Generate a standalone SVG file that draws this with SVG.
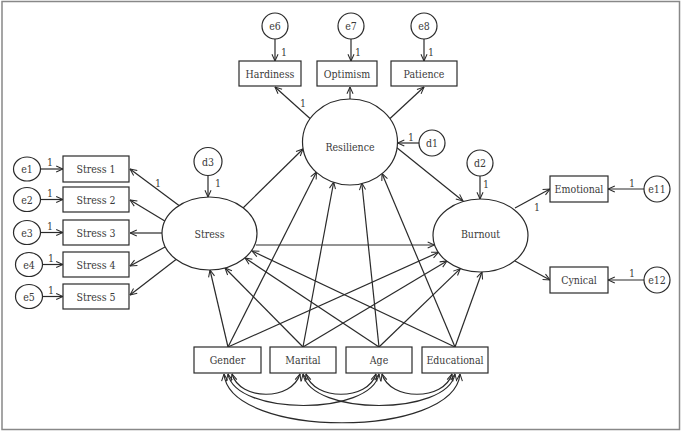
<svg xmlns="http://www.w3.org/2000/svg" width="682" height="432" viewBox="0 0 682 432">
<style>
.n{fill:#fff;stroke:#2a2a2a;stroke-width:1.2}
text{font-family:"DejaVu Serif Condensed","DejaVu Serif",serif;font-stretch:condensed;font-size:10.5px;fill:#3a3a3a;text-anchor:middle}
.c line,.c path{fill:none;stroke:#2a2a2a;stroke-width:1.2;marker-end:url(#a)}
.c .d{marker-start:url(#a)}
</style>
<defs>
<marker id="a" viewBox="0 0 10 10" refX="9.5" refY="5" markerWidth="8" markerHeight="8" markerUnits="userSpaceOnUse" orient="auto-start-reverse">
<path d="M1,1.2 L9.5,5 L1,8.8" fill="none" stroke="#2a2a2a" stroke-width="1.3"/>
</marker>
</defs>
<rect x="2" y="1.5" width="677.5" height="428" fill="#fff" stroke="#888" stroke-width="1.5"/>

<g class="c" id="connectors">
<line x1="40" y1="169" x2="63" y2="169"/>
<line x1="40" y1="199.5" x2="63" y2="199.5"/>
<line x1="40" y1="232.5" x2="63" y2="232.5"/>
<line x1="42" y1="264.5" x2="63" y2="264.5"/>
<line x1="42" y1="296.5" x2="63" y2="296.5"/>
<line x1="275" y1="39" x2="275" y2="61"/>
<line x1="351" y1="39" x2="351" y2="61"/>
<line x1="424" y1="39" x2="424" y2="61"/>
<line x1="644" y1="189" x2="608" y2="189"/>
<line x1="644" y1="280" x2="608" y2="280"/>
<line x1="208" y1="175.5" x2="208" y2="197"/>
<line x1="419" y1="143" x2="397.5" y2="143"/>
<line x1="480" y1="176" x2="480" y2="199"/>
<line x1="179" y1="205.4" x2="130" y2="169"/>
<line x1="164.8" y1="221.1" x2="130" y2="200"/>
<line x1="162" y1="233" x2="130" y2="233"/>
<line x1="165" y1="247" x2="130" y2="266"/>
<line x1="176" y1="259.5" x2="130" y2="295"/>
<line x1="310" y1="118.5" x2="275" y2="87"/>
<line x1="350" y1="99" x2="350" y2="87"/>
<line x1="390" y1="118.5" x2="424" y2="87"/>
<line x1="515" y1="208" x2="550" y2="189"/>
<line x1="515" y1="261" x2="550" y2="280"/>
<line x1="243" y1="208" x2="303" y2="149"/>
<line x1="256" y1="245" x2="434.5" y2="245"/>
<line x1="396" y1="147" x2="463" y2="201"/>
<line x1="228" y1="347" x2="210" y2="270"/>
<line x1="228" y1="347" x2="316.5" y2="172"/>
<line x1="228" y1="347" x2="438.5" y2="252.3"/>
<line x1="303" y1="347" x2="225" y2="268"/>
<line x1="303" y1="347" x2="333.7" y2="182"/>
<line x1="303" y1="347" x2="447" y2="261"/>
<line x1="379" y1="347" x2="245" y2="258"/>
<line x1="379" y1="347" x2="361.8" y2="183"/>
<line x1="379" y1="347" x2="460.3" y2="268.6"/>
<line x1="455" y1="347" x2="252" y2="251"/>
<line x1="455" y1="347" x2="382" y2="173.5"/>
<line x1="455" y1="347" x2="482" y2="272"/>
<path class="d" d="M232,374 C240,401 292,401 300,374"/>
<path class="d" d="M306,374 C314,401 368,401 376,374"/>
<path class="d" d="M382,374 C390,401 444,401 452,374"/>
<path class="d" d="M228,374 C236,416 371,416 379,374"/>
<path class="d" d="M303,374 C311,416 447,416 455,374"/>
<path class="d" d="M224,374 C230,439 454,439 460,374"/>
</g>

<g id="labels">
<text x="50" y="166">1</text>
<text x="50" y="196.5">1</text>
<text x="50" y="229.5">1</text>
<text x="51" y="261.5">1</text>
<text x="51" y="293.5">1</text>
<text x="158" y="187">1</text>
<text x="218" y="187">1</text>
<text x="284" y="56">1</text>
<text x="358" y="56">1</text>
<text x="431" y="56">1</text>
<text x="303" y="107">1</text>
<text x="411" y="141">1</text>
<text x="486" y="188">1</text>
<text x="537" y="211">1</text>
<text x="632" y="187">1</text>
<text x="632" y="277">1</text>
</g>

<g id="e1"><ellipse class="n" cx="27" cy="169" rx="13.5" ry="12"/><text x="27" y="173">e1</text></g>
<g id="e2"><ellipse class="n" cx="27" cy="199.5" rx="13.5" ry="12"/><text x="27" y="203.5">e2</text></g>
<g id="e3"><ellipse class="n" cx="27" cy="232.5" rx="13.5" ry="12"/><text x="27" y="236.5">e3</text></g>
<g id="e4"><ellipse class="n" cx="29" cy="264.5" rx="13.5" ry="12"/><text x="29" y="268.5">e4</text></g>
<g id="e5"><ellipse class="n" cx="29" cy="296.5" rx="13.5" ry="12"/><text x="29" y="300.5">e5</text></g>

<g id="stress1"><rect class="n" x="63" y="156" width="66" height="26"/><text x="96" y="173">Stress 1</text></g>
<g id="stress2"><rect class="n" x="63" y="187" width="66" height="25"/><text x="96" y="203.5">Stress 2</text></g>
<g id="stress3"><rect class="n" x="63" y="220" width="66" height="25"/><text x="96" y="236.5">Stress 3</text></g>
<g id="stress4"><rect class="n" x="63" y="252" width="66" height="25"/><text x="96" y="268.5">Stress 4</text></g>
<g id="stress5"><rect class="n" x="63" y="284" width="66" height="25"/><text x="96" y="300.5">Stress 5</text></g>

<g id="d3"><circle class="n" cx="208" cy="161.5" r="14"/><text x="208" y="165.5">d3</text></g>
<g id="d1"><circle class="n" cx="432" cy="143" r="13"/><text x="432" y="147">d1</text></g>
<g id="d2"><circle class="n" cx="480" cy="163" r="13"/><text x="480" y="167">d2</text></g>

<g id="e6"><circle class="n" cx="275" cy="26" r="13"/><text x="275" y="30">e6</text></g>
<g id="e7"><circle class="n" cx="351" cy="26" r="13"/><text x="351" y="30">e7</text></g>
<g id="e8"><circle class="n" cx="424" cy="26" r="13"/><text x="424" y="30">e8</text></g>

<g id="hardiness"><rect class="n" x="239" y="61" width="62" height="25"/><text x="270" y="77.5">Hardiness</text></g>
<g id="optimism"><rect class="n" x="317" y="61" width="60" height="25"/><text x="347" y="77.5">Optimism</text></g>
<g id="patience"><rect class="n" x="391" y="61" width="66" height="25"/><text x="424" y="77.5">Patience</text></g>

<g id="stress"><ellipse class="n" cx="209.5" cy="233.5" rx="47.5" ry="36.5"/><text x="209.5" y="238">Stress</text></g>
<g id="resilience"><ellipse class="n" cx="350" cy="142" rx="47.5" ry="43"/><text x="350" y="151">Resilience</text></g>
<g id="burnout"><ellipse class="n" cx="480.5" cy="235.5" rx="47.5" ry="36.5"/><text x="480.5" y="238">Burnout</text></g>

<g id="emotional"><rect class="n" x="550" y="176" width="58" height="26"/><text x="579" y="193">Emotional</text></g>
<g id="cynical"><rect class="n" x="550" y="267" width="58" height="26"/><text x="579" y="284">Cynical</text></g>
<g id="e11"><circle class="n" cx="657" cy="189" r="13"/><text x="657" y="193">e11</text></g>
<g id="e12"><circle class="n" cx="657" cy="280" r="13"/><text x="657" y="284">e12</text></g>

<g id="gender"><rect class="n" x="194" y="347" width="67" height="26"/><text x="227.5" y="364">Gender</text></g>
<g id="marital"><rect class="n" x="270" y="347" width="66" height="26"/><text x="303" y="364">Marital</text></g>
<g id="age"><rect class="n" x="346" y="347" width="66" height="26"/><text x="379" y="364">Age</text></g>
<g id="educational"><rect class="n" x="422" y="347" width="66" height="26"/><text x="455" y="364">Educational</text></g>
</svg>
